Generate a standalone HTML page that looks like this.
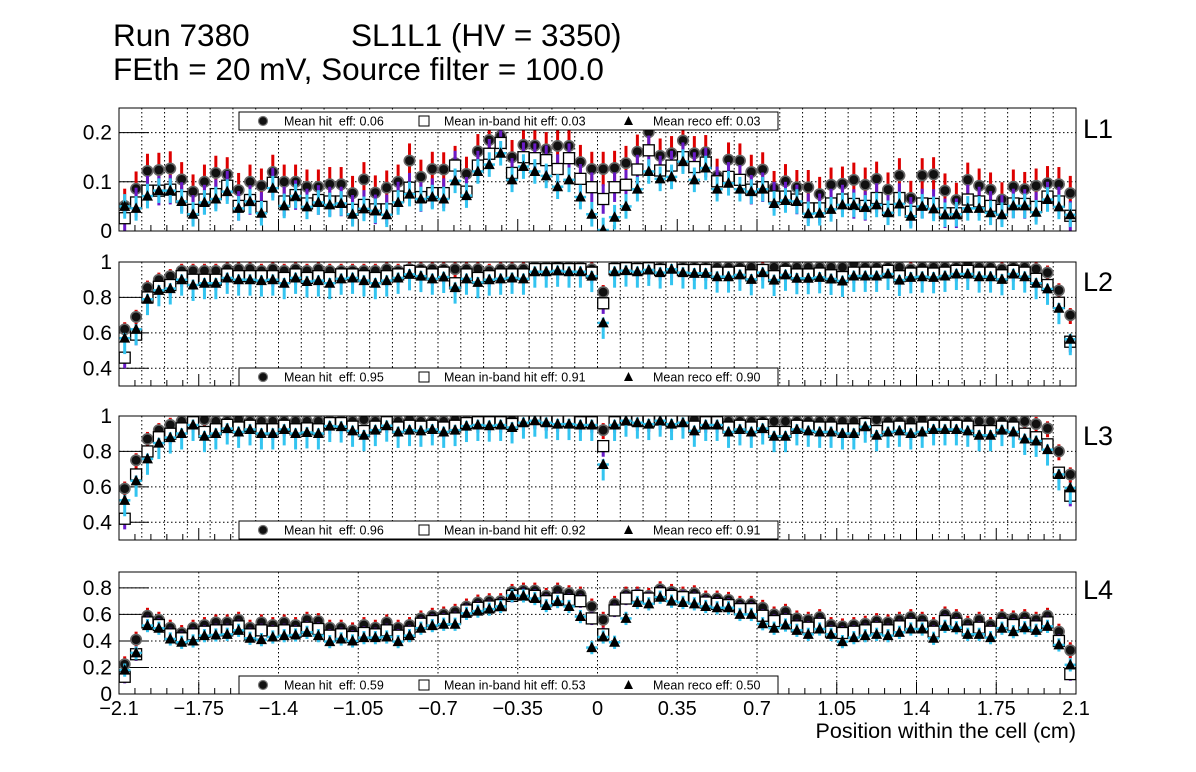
<!DOCTYPE html>
<html><head><meta charset="utf-8">
<style>
body{margin:0;background:#fff;}
svg{display:block;font-family:"Liberation Sans",sans-serif;}
.pre{white-space:pre;}
</style></head>
<body>
<svg id="c" width="1196" height="772" viewBox="0 0 1196 772">
<rect width="1196" height="772" fill="#fff"/>
<text x="113" y="46" font-size="31.5">Run 7380</text>
<text x="351" y="46" font-size="31.5">SL1L1 (HV = 3350)</text>
<text x="113" y="80" font-size="31.5">FEth = 20 mV, Source filter = 100.0</text>
<text x="1076" y="738" font-size="21.5" text-anchor="end">Position within the cell (cm)</text>
</svg>
<script>
const hit1=[.051,.086,.122,.124,.127,.105,.080,.100,.118,.115,.083,.100,.092,.120,.100,.100,.090,.090,.095,.095,.077,.105,.078,.088,.100,.143,.110,.126,.125,.138,.116,.162,.185,.193,.150,.175,.174,.166,.173,.173,.140,.126,.126,.128,.138,.161,.201,.153,.158,.184,.158,.160,.112,.145,.143,.120,.125,.087,.101,.089,.089,.075,.094,.096,.104,.094,.106,.084,.113,.067,.113,.115,.082,.063,.104,.092,.084,.064,.090,.085,.092,.097,.095,.077];
const band1=[.026,.058,.082,.082,.084,.069,.043,.064,.075,.092,.051,.063,.049,.098,.060,.073,.056,.063,.060,.060,.043,.053,.044,.044,.070,.088,.069,.077,.077,.133,.080,.133,.157,.179,.118,.150,.148,.144,.126,.148,.106,.089,.065,.089,.094,.125,.164,.123,.133,.150,.130,.139,.101,.110,.104,.084,.089,.070,.070,.064,.046,.046,.056,.064,.055,.051,.067,.043,.067,.039,.056,.055,.036,.036,.064,.060,.051,.043,.056,.055,.049,.070,.060,.031];
const reco1=[.050,.046,.071,.082,.082,.060,.034,.058,.065,.080,.046,.060,.036,.087,.051,.071,.049,.058,.053,.056,.034,.045,.041,.033,.058,.075,.065,.069,.065,.102,.072,.121,.135,.158,.104,.131,.121,.112,.090,.104,.069,.034,.002,.028,.050,.085,.121,.106,.110,.141,.104,.128,.085,.097,.085,.080,.085,.056,.062,.060,.035,.036,.044,.053,.053,.048,.053,.037,.055,.030,.050,.045,.033,.034,.046,.046,.037,.033,.051,.051,.038,.064,.049,.033];
const hit2=[.62,.69,.855,.90,.92,.95,.95,.95,.95,.96,.96,.96,.95,.96,.95,.96,.95,.96,.95,.95,.95,.95,.95,.96,.95,.96,.96,.96,.96,.96,.96,.96,.95,.96,.96,.96,.97,.97,.98,.97,.97,.96,.83,.97,.97,.97,.97,.97,.98,.97,.97,.97,.97,.97,.97,.97,.96,.97,.97,.97,.97,.97,.97,.97,.99,.97,.97,.97,.97,.96,.97,.97,.97,.97,.99,.97,.97,.96,.97,.97,.96,.94,.84,.70];
const band2=[.46,.59,.80,.86,.87,.92,.90,.90,.90,.93,.92,.92,.92,.92,.91,.93,.91,.92,.91,.93,.93,.92,.91,.92,.93,.95,.94,.93,.94,.88,.93,.91,.92,.93,.93,.93,.96,.96,.96,.96,.96,.94,.767,.96,.965,.96,.965,.955,.97,.955,.955,.955,.94,.94,.945,.925,.955,.92,.945,.93,.93,.935,.925,.915,.94,.94,.94,.95,.92,.935,.94,.935,.94,.95,.95,.94,.94,.925,.95,.94,.905,.87,.77,.55];
const reco2=[.57,.62,.79,.84,.85,.90,.87,.88,.88,.91,.90,.90,.895,.90,.88,.91,.89,.895,.88,.905,.91,.895,.88,.895,.91,.93,.92,.905,.915,.855,.905,.885,.90,.905,.91,.905,.945,.945,.95,.945,.945,.92,.656,.945,.951,.945,.955,.94,.959,.94,.936,.936,.917,.917,.927,.902,.94,.898,.927,.908,.908,.913,.904,.893,.921,.921,.921,.932,.898,.913,.917,.913,.921,.932,.932,.917,.917,.902,.932,.917,.88,.848,.739,.564];
const hit3=[.59,.75,.87,.92,.95,.97,.97,.98,.97,.97,.98,.97,.97,.97,.97,.97,.97,.97,.97,.97,.97,.98,.97,.97,.97,.98,.97,.97,.97,.98,.97,.98,.98,.97,.98,.98,.98,.97,.98,.98,.98,.97,.92,.98,.99,.98,.98,.98,.98,.98,.98,.98,.98,.97,.97,.97,.97,.97,.97,.97,.97,.97,.97,.97,.97,.97,.98,.97,.97,.97,.98,.97,.97,.97,.97,.97,.97,.97,.97,.97,.955,.93,.80,.67];
const band3=[.42,.67,.80,.88,.90,.93,.965,.91,.925,.95,.935,.945,.925,.925,.945,.925,.93,.925,.96,.96,.94,.915,.94,.965,.935,.945,.94,.945,.935,.945,.96,.965,.965,.965,.955,.975,.985,.975,.97,.97,.965,.965,.83,.965,.98,.975,.97,.98,.97,.975,.94,.965,.965,.935,.945,.935,.95,.91,.91,.945,.94,.935,.935,.925,.925,.955,.915,.935,.94,.925,.935,.945,.945,.945,.94,.915,.915,.94,.935,.90,.88,.84,.68,.55];
const reco3=[.524,.634,.758,.847,.878,.901,.949,.886,.901,.929,.910,.924,.901,.901,.924,.901,.907,.901,.943,.940,.916,.891,.920,.945,.910,.920,.916,.924,.910,.920,.943,.949,.945,.949,.935,.962,.973,.962,.954,.954,.949,.949,.726,.949,.973,.962,.954,.973,.954,.962,.916,.949,.949,.910,.924,.910,.929,.886,.886,.924,.916,.910,.910,.901,.901,.939,.891,.910,.916,.901,.910,.924,.924,.924,.916,.891,.891,.920,.910,.870,.859,.81,.67,.594];
const hit4=[.224,.41,.59,.56,.50,.46,.50,.52,.54,.54,.56,.50,.54,.52,.54,.52,.56,.55,.50,.50,.48,.52,.50,.54,.50,.52,.57,.59,.60,.62,.66,.69,.70,.70,.77,.78,.78,.74,.78,.76,.75,.66,.56,.68,.75,.75,.74,.79,.77,.75,.76,.72,.72,.71,.68,.68,.65,.60,.62,.57,.56,.58,.52,.51,.52,.53,.55,.54,.56,.58,.56,.52,.60,.58,.53,.56,.52,.58,.57,.58,.56,.59,.47,.33];
const band4=[.13,.30,.54,.52,.45,.42,.45,.47,.48,.48,.51,.45,.48,.47,.48,.47,.50,.49,.44,.45,.43,.46,.45,.48,.44,.47,.53,.55,.56,.57,.63,.65,.66,.67,.74,.75,.74,.70,.72,.71,.70,.57,.45,.63,.72,.74,.72,.76,.74,.73,.72,.69,.68,.67,.64,.64,.59,.55,.56,.51,.50,.53,.47,.46,.47,.48,.50,.48,.51,.53,.51,.47,.55,.53,.48,.50,.47,.53,.52,.53,.51,.54,.40,.15];
const reco4=[.18,.31,.516,.496,.415,.39,.40,.44,.445,.45,.48,.42,.41,.43,.44,.445,.465,.44,.395,.415,.40,.425,.425,.43,.395,.44,.496,.516,.526,.526,.608,.625,.64,.66,.742,.74,.72,.667,.697,.66,.584,.35,.43,.39,.57,.69,.68,.73,.70,.69,.68,.66,.65,.65,.60,.60,.53,.496,.52,.48,.45,.49,.45,.395,.425,.44,.45,.44,.465,.49,.49,.42,.51,.50,.45,.45,.425,.496,.47,.50,.48,.51,.37,.22];
const layerNames=["L1","L2","L3","L4"];
const meanHit=["0.06","0.95","0.96","0.59"];
const meanBand=["0.03","0.91","0.92","0.53"];
const meanReco=["0.03","0.90","0.91","0.50"];
const xTickLabels=["\u22122.1","\u22121.75","\u22121.4","\u22121.05","\u22120.7","\u22120.35","0","0.35","0.7","1.05","1.4","1.75","2.1"];
const xTickValues=[-2.1,-1.75,-1.4,-1.05,-0.7,-0.35,0,0.35,0.7,1.05,1.4,1.75,2.1];

const NS="http://www.w3.org/2000/svg";
const svg=document.getElementById('c');
function mk(tag,attrs,parent){const e=document.createElementNS(NS,tag);for(const k in attrs)e.setAttribute(k,attrs[k]);(parent||svg).appendChild(e);return e;}
const X0=119,X1=1076;
function xs(v){return X0+(v+2.1)/4.2*(X1-X0);}
function binX(i){return -2.075+0.05*i;}

const panels=[
 {top:108,bot:231,ymin:0,ymax:0.25,ticks:[0,0.1,0.2],tl:["0","0.1","0.2"],legTop:112,hit:hit1,band:band1,reco:reco1,eh:[.035,.035],eb:[.03,.03],er:[.025,.025],lab:138,grid:"fine"},
 {top:262,bot:386,ymin:0.3,ymax:1.0,ticks:[0.4,0.6,0.8,1.0],tl:["0.4","0.6","0.8","1"],legTop:368,hit:hit2,band:band2,reco:reco2,eh:[.05,.04],eb:[.06,.03],er:[.09,.03],lab:291,grid:"fine"},
 {top:416,bot:540,ymin:0.3,ymax:1.0,ticks:[0.4,0.6,0.8,1.0],tl:["0.4","0.6","0.8","1"],legTop:521,hit:hit3,band:band3,reco:reco3,eh:[.05,.04],eb:[.06,.03],er:[.09,.03],lab:445,grid:"fine"},
 {top:572,bot:694,ymin:0,ymax:0.92,ticks:[0,0.2,0.4,0.6,0.8],tl:["0","0.2","0.4","0.6","0.8"],legTop:676,hit:hit4,band:band4,reco:reco4,eh:[.06,.06],eb:[.05,.05],er:[.05,.05],lab:599,grid:"coarse"}
];

panels.forEach((p,k)=>{
 const g=mk('g',{});
 
 
 const ys=v=>p.bot-(v-p.ymin)/(p.ymax-p.ymin)*(p.bot-p.top);
 const cid='clip'+k;
 const cp=mk('clipPath',{id:cid},g);
 mk('rect',{x:X0,y:p.top,width:X1-X0,height:p.bot-p.top},cp);
 const gg=mk('g',{stroke:'#000','stroke-width':1,'stroke-dasharray':'1.5,2.5'},g);
 
 
 if(p.grid==="fine"){for(let v=-2.0;v<2.05;v+=0.1){const x=xs(v);mk('line',{x1:x,x2:x,y1:p.top,y2:p.bot},gg);}}
 else{xTickValues.forEach(v=>{const x=xs(v);mk('line',{x1:x,x2:x,y1:p.top,y2:p.bot},gg);});}
 p.ticks.forEach(v=>{if(v>p.ymin&&v<p.ymax){const y=ys(v);mk('line',{x1:X0,x2:X1,y1:y,y2:y},gg);}});
 p.ticks.forEach((v,j)=>{const y=ys(v);
  if(v>p.ymin&&v<p.ymax) mk('line',{x1:X0,x2:X0+30,y1:y,y2:y,stroke:'#000','stroke-width':1},g);
  const t=mk('text',{x:112,y:y+7,'font-size':21,'text-anchor':'end'},g);t.textContent=p.tl[j];
  
  
 });
 for(let v=-2.1;v<2.11;v+=0.07){const x=xs(v);const major=Math.abs(Math.round(v/0.35)*0.35-v)<0.01;
  mk('line',{x1:x,x2:x,y1:p.bot,y2:p.bot-(major?12:6),stroke:'#000','stroke-width':1},g);}
 const dg=mk('g',{'clip-path':'url(#'+cid+')'},g);
 
 
 const series=[
  {arr:p.hit,col:'#dd0000',e:p.eh,m:'circle',name:'hit-eff'},
  {arr:p.band,col:'#6a1bc8',e:p.eb,m:'square',name:'inband-eff'},
  {arr:p.reco,col:'#33c4f0',e:p.er,m:'triangle',name:'reco-eff'}];
 series.forEach(s=>{
  s.arr.forEach((v,i)=>{
   const x=xs(binX(i)),y=ys(v);
   mk('line',{x1:x,x2:x,y1:ys(v-s.e[0]),y2:ys(v+s.e[1]),stroke:s.col,'stroke-width':3},dg);
   mk('line',{x1:x-5.7,x2:x+5.7,y1:y,y2:y,stroke:s.col,'stroke-width':2.5},dg);
   let m;
   if(s.m==='circle') m=mk('circle',{cx:x,cy:y,r:5.2,fill:'#111',stroke:'#666','stroke-width':1.6},dg);
   else if(s.m==='square') m=mk('rect',{x:x-5.5,y:y-5.5,width:11,height:11,fill:'#fff',stroke:'#000','stroke-width':1.3},dg);
   else m=mk('polygon',{points:(x-5.5)+','+(y+4.5)+' '+(x+5.5)+','+(y+4.5)+' '+x+','+(y-6),fill:'#000'},dg);
   
   
  });
 });
 mk('rect',{x:X0,y:p.top,width:X1-X0,height:p.bot-p.top,fill:'none',stroke:'#000','stroke-width':1},g);
 const lg=mk('g',{},g);
 
 
 const lt=p.legTop,lh=18,cy=lt+lh/2;
 mk('rect',{x:239,y:lt,width:539,height:lh,fill:'#fff',stroke:'#000','stroke-width':1},lg);
 mk('circle',{cx:263,cy:cy,r:4.5,fill:'#111',stroke:'#777','stroke-width':1.2},lg);
 mk('rect',{x:419,y:cy-5,width:10,height:10,fill:'none',stroke:'#000','stroke-width':1},lg);
 mk('polygon',{points:'624,'+(cy+4)+' 633,'+(cy+4)+' 628.5,'+(cy-5),fill:'#000'},lg);
 const items=[[284,'Mean hit\u00a0 eff: '+meanHit[k]],[444,'Mean in-band hit eff: '+meanBand[k]],[653,'Mean reco eff: '+meanReco[k]]];
 items.forEach(it=>{const t=mk('text',{x:it[0],y:cy+4.5,'font-size':12.5,'class':'pre'},lg);t.textContent=it[1];
  
  });
 const L=mk('text',{x:1083,y:p.lab,'font-size':27},g);L.textContent=layerNames[k];
 
 
});
xTickValues.forEach((v,j)=>{const t=mk('text',{x:xs(v),y:715,'font-size':20,'text-anchor':'middle'});t.textContent=xTickLabels[j];
 
 });
</script>
</body></html>
